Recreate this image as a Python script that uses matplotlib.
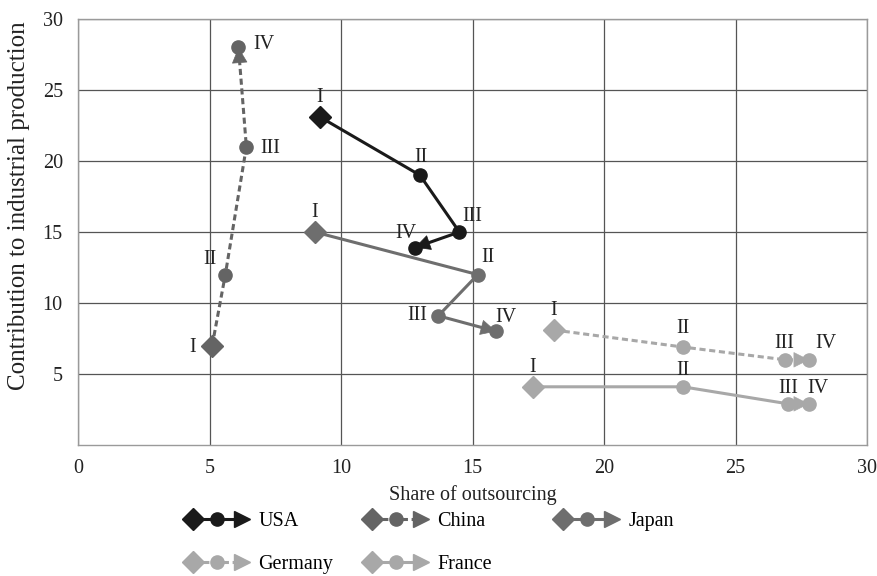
import numpy as np
import matplotlib
matplotlib.use('Agg')
import matplotlib.pyplot as plt
from matplotlib.lines import Line2D
from matplotlib.legend_handler import HandlerBase

plt.rcParams['font.family'] = ['Liberation Serif', 'DejaVu Serif']
plt.rcParams['font.size'] = 14.5

# data: (share of outsourcing, contribution) for periods I-IV
names = ['USA', 'China', 'Japan', 'Germany', 'France']
usa_x = [9.2, 13.0, 14.5, 12.8]
usa_y = [23.1, 19.0, 15.0, 13.9]
china_x = [5.1, 5.6, 6.4, 6.1]
china_y = [7.0, 12.0, 21.0, 28.0]
japan_x = [9.0, 15.2, 13.7, 15.9]
japan_y = [15.0, 12.0, 9.1, 8.0]
germany_x = [18.1, 23.0, 26.9, 27.8]
germany_y = [8.1, 6.9, 6.0, 6.0]
france_x = [17.3, 23.0, 27.0, 27.8]
france_y = [4.1, 4.1, 2.9, 2.9]
periods = ['I', 'II', 'III', 'IV']

xs = [usa_x, china_x, japan_x, germany_x, france_x]
ys = [usa_y, china_y, japan_y, germany_y, france_y]
colors = ['#1a1a1a', '#646464', '#6e6e6e', '#a8a8a8', '#a8a8a8']
styles = ['-', (0, (2, 1.2)), '-', (0, (2, 1.2)), '-']

# label offsets in points for each point
offs = [
    [(0, 14), (1, 13), (9, 11), (-6, 10)],
    [(-14, -1), (-11, 11), (17, -1), (18, 2)],
    [(0, 14), (7, 12), (-15, 0), (7, 10)],
    [(0, 14), (0, 13), (-1, 12), (12, 12)],
    [(0, 14), (0, 12), (0, 11), (6, 11)],
]

fig = plt.figure(figsize=(8.77, 5.76), dpi=100)
ax = fig.add_axes([0.089, 0.2274, 0.8996, 0.7396])

lw = 2.2
for x, y, c, ls, off in zip(xs, ys, colors, styles, offs):
    ax.plot(x, y, color=c, lw=lw, linestyle=ls, zorder=3)
    # arrow head on the last segment
    dx = x[-1] - x[-2]
    dy = y[-1] - y[-2]
    ax.annotate('', xy=(x[-1], y[-1]), xytext=(x[-1] - 0.02 * dx, y[-1] - 0.02 * dy),
                arrowprops=dict(arrowstyle='-|>', color=c, lw=0.5, mutation_scale=26,
                                shrinkA=0, shrinkB=0), zorder=4)
    ax.plot(x[0], y[0], marker='D', ms=11, color=c, zorder=5, linestyle='none')
    ax.plot(x[1:], y[1:], marker='o', ms=9.5, color=c, zorder=5, linestyle='none')
    for px, py, lab, o in zip(x, y, periods, off):
        ax.annotate(lab, (px, py), xytext=o, textcoords='offset points',
                    ha='center', va='center', fontsize=14.5, color='#222222')

ax.set_xlim(0, 30)
ax.set_ylim(0, 30)
ax.set_xticks(np.arange(0, 31, 5))
ax.set_yticks(np.arange(5, 31, 5))
ax.grid(True, color='#555555', lw=0.9)
ax.set_axisbelow(True)
for s in ax.spines.values():
    s.set_color('#9a9a9a')
    s.set_linewidth(1.0)
ax.tick_params(axis='x', length=0, pad=10, colors='#222222')
ax.tick_params(axis='y', length=0, pad=11, colors='#222222')
ax.set_xlabel('Share of outsourcing', color='#222222', labelpad=5)
ax.set_ylabel('Contribution to industrial production', color='#222222', fontsize=18)
ax.yaxis.set_label_coords(-0.061, 0.562)


class SeriesHandler(HandlerBase):
    def __init__(self, color, ls):
        super().__init__()
        self.color = color
        self.ls = ls

    def create_artists(self, legend, orig_handle, xdescent, ydescent, width, height, fontsize, trans):
        y0 = height / 2 - ydescent
        x0 = -xdescent
        line = Line2D([x0 + 7, x0 + width - 8], [y0, y0], color=self.color, lw=lw, linestyle=self.ls, transform=trans)
        d = Line2D([x0 + 7], [y0], marker='D', ms=11, color=self.color, transform=trans)
        o = Line2D([x0 + width / 2], [y0], marker='o', ms=9.5, color=self.color, transform=trans)
        t = Line2D([x0 + width - 6], [y0], marker='>', ms=12, color=self.color, transform=trans)
        return [line, d, o, t]


handles = [Line2D([], [], color=c) for c in colors]
hmap = {h: SeriesHandler(c, ls) for h, c, ls in zip(handles, colors, styles)}
# legend columns: (USA, Germany), (China, France), (Japan)
cols = [[0, 3], [1, 4], [2]]
col_x = [183, 362, 553]
for idx, cx in zip(cols, col_x):
    fig.legend([handles[i] for i in idx], [names[i] for i in idx], handler_map=hmap,
               loc='upper left', bbox_to_anchor=(cx / 877, 1 - 512 / 576),
               ncol=1, frameon=False, handlelength=3.35, handletextpad=0.4,
               labelspacing=1.2, borderpad=0, borderaxespad=0, fontsize=14.5)

fig.savefig('out.png', dpi=100)
